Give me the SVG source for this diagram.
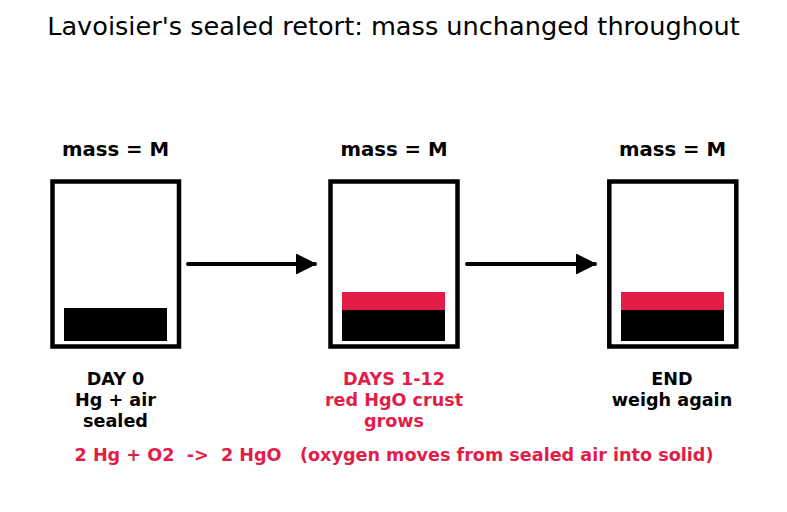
<svg xmlns="http://www.w3.org/2000/svg" width="787" height="512" viewBox="0 0 787 512">
<defs>
<style>
.t{font-family:"DejaVu Sans",sans-serif;fill:#000;text-anchor:middle}
.b{font-family:"DejaVu Sans",sans-serif;font-weight:bold;text-anchor:middle;font-size:17.6px}
.m{font-family:"DejaVu Sans",sans-serif;font-weight:bold;text-anchor:middle;font-size:19.7px;fill:#000}
.k{fill:#000}
.r{fill:#e11d48}
.box{fill:#fff;stroke:#000;stroke-width:4.5}
.c{stroke:#000;stroke-width:4;stroke-linecap:round;fill:none}
</style>
<marker id="ah" markerUnits="userSpaceOnUse" markerWidth="20" markerHeight="20" refX="19" refY="10" orient="auto">
<path d="M0,0 L20,10 L0,20 Z" fill="#000" stroke="#000" stroke-width="1" stroke-linejoin="round"/>
</marker>
</defs>
<rect width="787" height="512" fill="#fff"/>
<text class="t" x="393.5" y="35" font-size="25.6">Lavoisier's sealed retort: mass unchanged throughout</text>
<g id="node-day0">
<text class="m" x="115.5" y="156">mass = M</text>
<rect class="box" x="52.5" y="181.5" width="126.5" height="165"/>
<rect class="k" x="64" y="308" width="103" height="33"/>
<text class="b k" x="115.5" y="385">DAY 0</text>
<text class="b k" x="115.5" y="406">Hg + air</text>
<text class="b k" x="115.5" y="427">sealed</text>
</g>
<g id="node-days">
<text class="m" x="394" y="156">mass = M</text>
<rect class="box" x="330.5" y="181.5" width="127" height="165"/>
<rect class="r" x="342" y="292" width="103" height="18"/>
<rect class="k" x="342" y="310" width="103" height="31"/>
<text class="b r" x="394" y="385">DAYS 1-12</text>
<text class="b r" x="394" y="406">red HgO crust</text>
<text class="b r" x="394" y="427">grows</text>
</g>
<g id="node-end">
<text class="m" x="672.5" y="156">mass = M</text>
<rect class="box" x="609.3" y="181.5" width="127" height="165"/>
<rect class="r" x="621" y="292" width="103" height="18"/>
<rect class="k" x="621" y="310" width="103" height="31"/>
<text class="b k" x="672" y="385">END</text>
<text class="b k" x="672" y="406">weigh again</text>
</g>
<g id="connectors">
<line class="c" x1="188" y1="264" x2="315" y2="264" marker-end="url(#ah)"/>
<line class="c" x1="467" y1="264" x2="595" y2="264" marker-end="url(#ah)"/>
</g>
<text class="b r" x="394" y="461" font-size="17.5" xml:space="preserve" style="white-space:pre">2 Hg + O2  -&gt;  2 HgO   (oxygen moves from sealed air into solid)</text>
</svg>
